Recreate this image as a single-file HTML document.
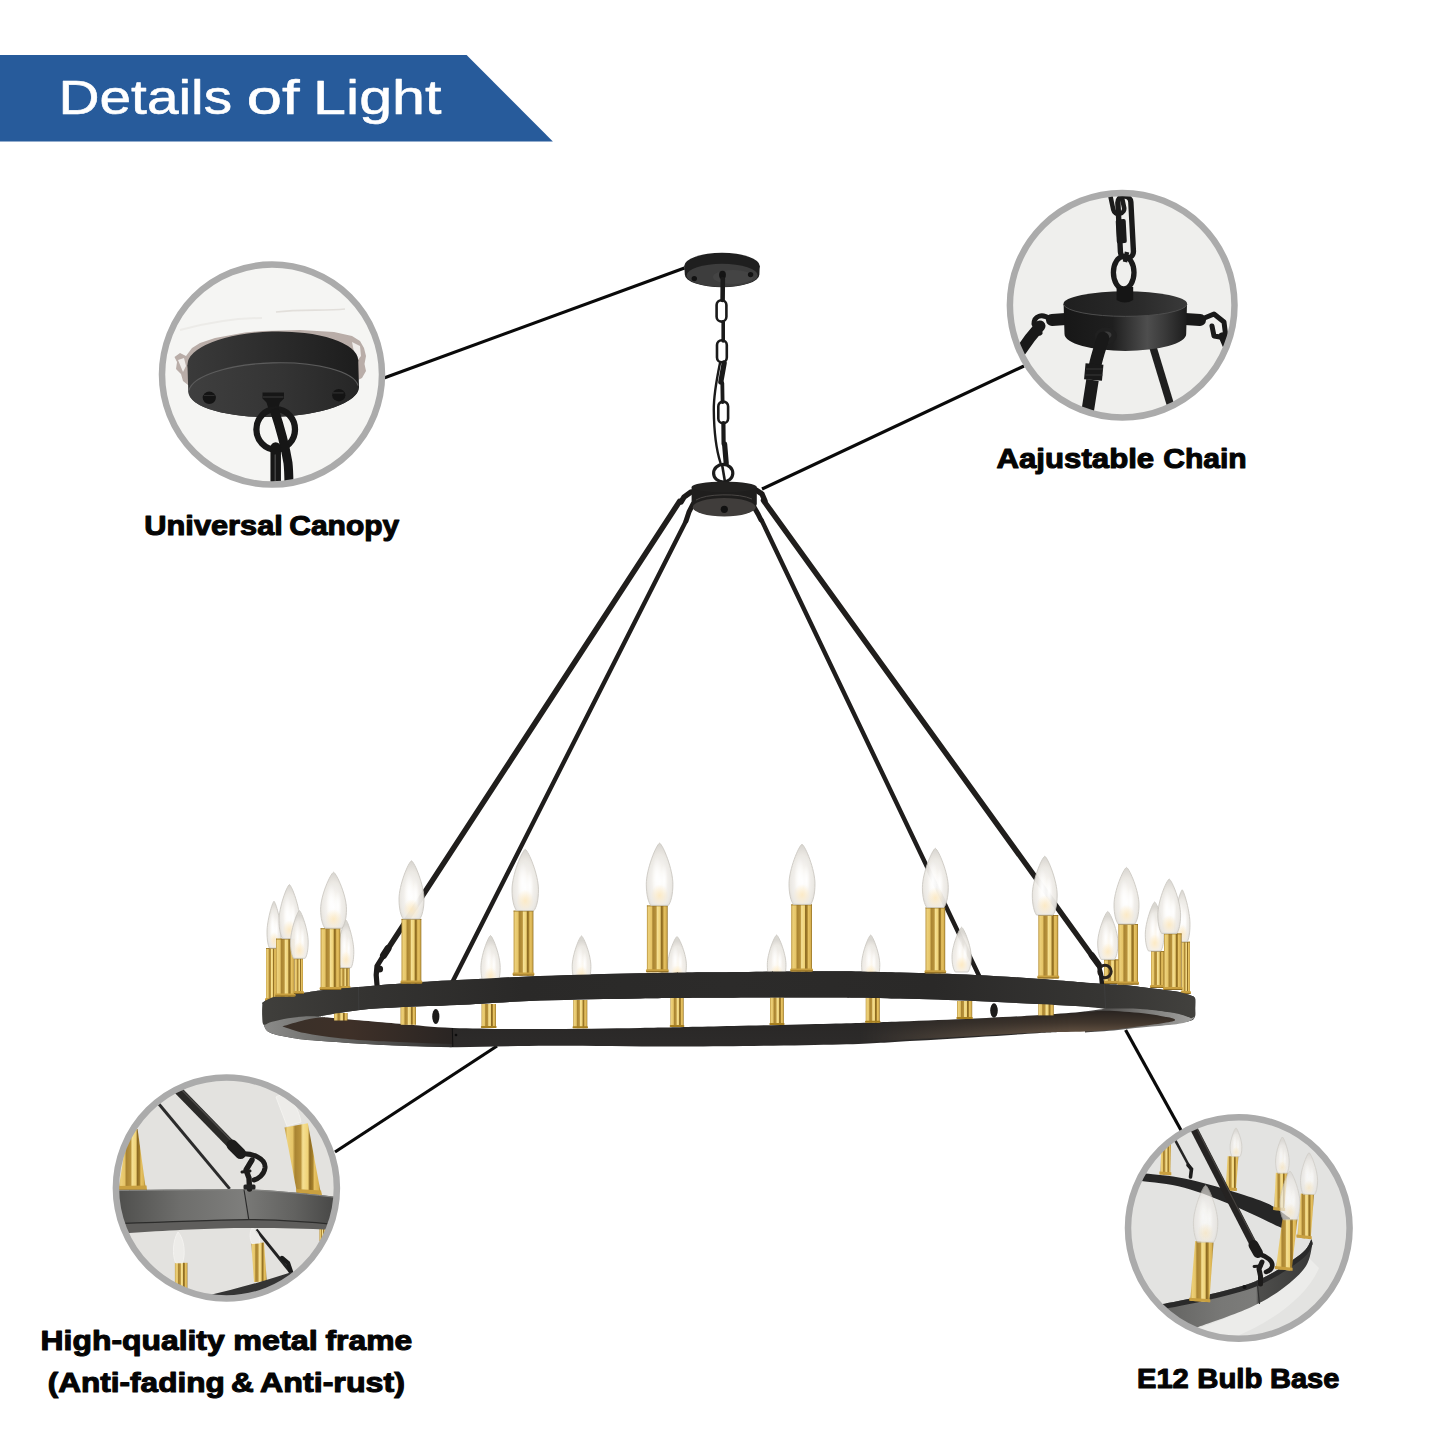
<!DOCTYPE html>
<html><head><meta charset="utf-8"><title>Details of Light</title>
<style>html,body{margin:0;padding:0;background:#fff;}body{width:1445px;height:1445px;overflow:hidden;font-family:"Liberation Sans",sans-serif;}svg{display:block}</style>
</head><body>
<svg width="1445" height="1445" viewBox="0 0 1445 1445">
<defs>
<linearGradient id="gold" x1="0" x2="1" y1="0" y2="0">
<stop offset="0" stop-color="#b8923c"/><stop offset="0.08" stop-color="#ecd07a"/><stop offset="0.22" stop-color="#e6c568"/>
<stop offset="0.29" stop-color="#a98432"/><stop offset="0.44" stop-color="#b9933c"/><stop offset="0.5" stop-color="#f5e093"/>
<stop offset="0.64" stop-color="#efd276"/><stop offset="0.69" stop-color="#8c6a22"/><stop offset="0.77" stop-color="#a6812c"/>
<stop offset="0.82" stop-color="#e6c262"/><stop offset="0.93" stop-color="#d8b252"/><stop offset="1" stop-color="#8f6d22"/>
</linearGradient>
<radialGradient id="bulb" cx="0.5" cy="0.62" r="0.62">
<stop offset="0" stop-color="#ffffff"/><stop offset="0.3" stop-color="#f9f7f3"/><stop offset="0.7" stop-color="#ebe8e3"/><stop offset="1" stop-color="#d5d2cc"/>
</radialGradient>
<radialGradient id="bulbS" cx="0.5" cy="0.72" r="0.62">
<stop offset="0" stop-color="#fff8e8"/><stop offset="0.4" stop-color="#f6f2eb"/><stop offset="0.8" stop-color="#ebe8e3"/><stop offset="1" stop-color="#d8d5cf"/>
</radialGradient>
<radialGradient id="glow" cx="0.5" cy="0.5" r="0.5">
<stop offset="0" stop-color="#fde6b8" stop-opacity="0.75"/><stop offset="1" stop-color="#fde6b8" stop-opacity="0"/>
</radialGradient>
<radialGradient id="wh" cx="0.5" cy="0.5" r="0.5">
<stop offset="0" stop-color="#ffffff" stop-opacity="0.95"/><stop offset="1" stop-color="#ffffff" stop-opacity="0"/>
</radialGradient>
<linearGradient id="bandN" gradientUnits="userSpaceOnUse" x1="262" x2="1195" y1="0" y2="0">
<stop offset="0" stop-color="#403f3c"/><stop offset="0.1" stop-color="#353432"/><stop offset="0.28" stop-color="#2a2928"/><stop offset="0.5" stop-color="#2c2b2a"/><stop offset="0.72" stop-color="#2a2928"/><stop offset="0.9" stop-color="#363533"/><stop offset="1" stop-color="#42413e"/>
</linearGradient>
<linearGradient id="bandF" x1="0" x2="0" y1="0" y2="1">
<stop offset="0" stop-color="#222120"/><stop offset="1" stop-color="#2d2b2a"/>
</linearGradient>
<linearGradient id="fadeRg" gradientUnits="userSpaceOnUse" x1="860" x2="1070" y1="0" y2="0">
<stop offset="0" stop-color="#000"/><stop offset="1" stop-color="#fff"/>
</linearGradient>
<mask id="fadeR" maskUnits="userSpaceOnUse" x="800" y="990" width="420" height="70"><rect x="800" y="990" width="420" height="70" fill="url(#fadeRg)"/></mask>
<linearGradient id="rimR" gradientUnits="userSpaceOnUse" x1="1085" x2="1195" y1="0" y2="0">
<stop offset="0" stop-color="#3a3837"/><stop offset="0.5" stop-color="#777674"/><stop offset="1" stop-color="#a3a3a1"/>
</linearGradient>
<linearGradient id="brownR" gradientUnits="userSpaceOnUse" x1="0" x2="0" y1="1010" y2="1036">
<stop offset="0" stop-color="#27221f"/><stop offset="0.5" stop-color="#41362d"/><stop offset="1" stop-color="#6e5b49"/>
</linearGradient>
<linearGradient id="rimL" gradientUnits="userSpaceOnUse" x1="262" x2="460" y1="0" y2="0">
<stop offset="0" stop-color="#8c8c8a"/><stop offset="0.35" stop-color="#6a6a68"/><stop offset="1" stop-color="#2d2b2a"/>
</linearGradient>
<linearGradient id="brownL" x1="0" x2="1" y1="0" y2="0">
<stop offset="0" stop-color="#3a3029"/><stop offset="0.4" stop-color="#3e3028"/><stop offset="1" stop-color="#2a2523"/>
</linearGradient>
<linearGradient id="face3" gradientUnits="userSpaceOnUse" x1="112" x2="340" y1="0" y2="0">
<stop offset="0" stop-color="#4c4c4a"/><stop offset="0.3" stop-color="#6e6e6c"/><stop offset="0.58" stop-color="#7e7e7c"/><stop offset="0.6" stop-color="#777775"/><stop offset="0.8" stop-color="#626260"/><stop offset="1" stop-color="#444443"/>
</linearGradient>
<linearGradient id="face4" gradientUnits="userSpaceOnUse" x1="1160" x2="1315" y1="0" y2="0">
<stop offset="0" stop-color="#626260"/><stop offset="0.4" stop-color="#787876"/><stop offset="0.62" stop-color="#7c7c7a"/><stop offset="0.635" stop-color="#4e4e4c"/><stop offset="1" stop-color="#383837"/>
</linearGradient>
<linearGradient id="cside" gradientUnits="userSpaceOnUse" x1="188" x2="358" y1="0" y2="0">
<stop offset="0" stop-color="#3a3a3a"/><stop offset="0.5" stop-color="#2c2c2c"/><stop offset="1" stop-color="#1d1d1d"/>
</linearGradient>
<linearGradient id="cface" gradientUnits="userSpaceOnUse" x1="188" x2="358" y1="0" y2="0">
<stop offset="0" stop-color="#3f3f3f"/><stop offset="0.55" stop-color="#343434"/><stop offset="1" stop-color="#262626"/>
</linearGradient>
<linearGradient id="hside" gradientUnits="userSpaceOnUse" x1="1063" x2="1187" y1="0" y2="0">
<stop offset="0" stop-color="#171717"/><stop offset="0.4" stop-color="#1f1f1f"/><stop offset="0.68" stop-color="#4e4e4e"/><stop offset="0.82" stop-color="#3a3a3a"/><stop offset="1" stop-color="#1c1c1c"/>
</linearGradient>
<linearGradient id="htop" gradientUnits="userSpaceOnUse" x1="1063" x2="1187" y1="0" y2="0">
<stop offset="0" stop-color="#1f1f1f"/><stop offset="0.6" stop-color="#2a2a2a"/><stop offset="1" stop-color="#3a3a3a"/>
</linearGradient>
<clipPath id="c1"><circle cx="272" cy="374.6" r="108"/></clipPath>
<clipPath id="c2"><circle cx="1122.2" cy="305.2" r="110"/></clipPath>
<clipPath id="c3"><circle cx="226.4" cy="1188" r="108.5"/></clipPath>
<clipPath id="c4"><circle cx="1238.8" cy="1228" r="108.5"/></clipPath>
</defs>
<polygon points="0,55 466.6,55 552.9,141.5 0,141.5" fill="#275b9b"/>
<g stroke="#0a0a0a" stroke-width="3.2" stroke-linecap="butt">
<line x1="684.5" y1="268" x2="384" y2="378"/>
<line x1="762" y1="489" x2="1024" y2="366"/>
<line x1="497" y1="1046" x2="335" y2="1152"/>
<line x1="1125.6" y1="1030" x2="1182" y2="1132"/>
</g>
<g id="chandelier">
<ellipse cx="722" cy="266" rx="37.8" ry="13.2" fill="#1f1f1f"/>
<path d="M684.3,266 L684.8,274.5 A36.5,12.5 0 0 0 759.4,274.5 L759.7,266 Z" fill="#1f1f1f"/>
<ellipse cx="722.2" cy="275.4" rx="35.6" ry="11.6" fill="#3d3d3d"/>
<ellipse cx="733" cy="277" rx="20" ry="7" fill="#4a4a4a" opacity="0.6"/>
<circle cx="694.3" cy="278.6" r="2.7" fill="#121212"/><circle cx="750.6" cy="274.6" r="2.7" fill="#121212"/>
<ellipse cx="722.5" cy="275" rx="3.4" ry="4.2" fill="#141414"/>
<g fill="none" stroke="#1a1a1a" stroke-linecap="round">
<path d="M722.8,279 L722.6,300" stroke-width="4.6"/>
<path d="M723.2,322 L723.2,341" stroke-width="3.6"/>
<path d="M724.2,363 L720.8,382" stroke-width="5.2"/>
<path d="M722.3,383 L722.6,402" stroke-width="3.8"/>
<path d="M723.4,423 L723.6,444" stroke-width="4.2"/>
<path d="M724.6,444 L726.2,463" stroke-width="5.2"/>
<path d="M720,363 C716.5,380 713.6,395 713.8,410 C714,432 717,452 720.5,463" stroke-width="2.4"/>
<rect x="716.6" y="300.2" width="9.8" height="21.4" rx="4.8" stroke-width="2.6"/>
<rect x="717.0" y="340.2" width="9.8" height="22.0" rx="4.8" stroke-width="2.6"/>
<rect x="718.3" y="401.6" width="9.8" height="21.6" rx="4.8" stroke-width="2.6"/>
</g>
<ellipse cx="723.2" cy="473.2" rx="9.6" ry="8.8" fill="none" stroke="#1b1b1b" stroke-width="3.2"/>
<path d="M722,464 L725,482" stroke="#1b1b1b" stroke-width="2.6"/>
<g stroke="#1f1d1c" stroke-linecap="round">
<line x1="685.5" y1="522" x2="437.2" y2="1012" stroke-width="4.4"/>
<line x1="761.5" y1="520" x2="994.4" y2="1008" stroke-width="4.4"/>
</g>
<path d="M262.6,1004.0 C262.8,1003.6 261.4,1003.1 263.5,1001.9 C265.6,1000.7 268.6,998.2 275.0,996.7 C281.4,995.2 294.4,994.2 302.0,993.2 C309.6,992.2 311.3,991.5 320.6,990.5 C329.9,989.5 344.5,988.2 358.0,987.0 C371.5,985.8 384.9,984.5 401.5,983.4 C418.1,982.2 434.5,981.3 457.6,980.1 C480.7,978.9 509.6,977.1 540.0,976.0 C570.4,974.9 612.0,973.8 640.0,973.2 C668.0,972.6 676.3,972.5 708.0,972.2 C739.7,971.9 798.0,971.2 830.0,971.2 C862.0,971.2 875.8,971.9 900.0,972.5 C924.2,973.1 952.2,973.9 975.0,974.9 C997.8,975.9 1015.5,977.2 1037.0,978.7 C1058.5,980.2 1089.2,983.0 1103.8,984.0 C1118.4,985.0 1118.0,984.4 1124.6,984.9 C1131.1,985.4 1134.5,986.1 1143.1,987.2 C1151.7,988.3 1168.0,990.1 1176.4,991.6 C1184.8,993.1 1190.7,995.6 1193.6,996.4  L1193.6,996.4 C1193.9,996.8 1194.9,996.9 1195.2,998.8 C1195.5,1000.7 1195.3,1004.9 1195.2,1008.0 C1195.1,1011.1 1195.8,1015.2 1194.6,1017.5 C1193.4,1019.8 1192.8,1020.3 1188.0,1021.5 C1183.2,1022.7 1176.6,1023.5 1166.0,1024.6 C1155.4,1025.7 1141.9,1026.7 1124.6,1027.9 C1107.3,1029.1 1076.9,1030.9 1062.3,1031.8 C1047.7,1032.7 1051.5,1032.3 1037.0,1033.2 C1022.5,1034.1 996.2,1035.9 975.0,1037.2 C953.8,1038.5 932.5,1039.8 910.0,1041.0 C887.5,1042.2 877.5,1043.6 840.0,1044.5 C802.5,1045.4 733.3,1046.4 685.0,1046.6 C636.7,1046.8 588.9,1045.7 550.0,1045.8 C511.1,1045.9 480.6,1047.4 451.4,1047.2 C422.2,1047.0 397.8,1045.7 374.6,1044.5 C351.4,1043.3 326.4,1041.5 312.3,1040.3 C298.2,1039.1 296.9,1038.7 290.0,1037.5 C283.1,1036.3 275.1,1034.8 270.8,1033.0 C266.6,1031.2 265.9,1029.8 264.5,1026.8 C263.1,1023.8 262.8,1018.8 262.5,1015.0 C262.2,1011.2 262.6,1005.8 262.6,1004.0 Z" fill="url(#bandF)"/>
<path d="M262.4,1012.0 C268.7,1012.0 287.1,1012.0 300.0,1012.0 C312.9,1012.0 314.4,1009.4 340.0,1012.0 C365.6,1014.6 434.5,1025.2 453.4,1027.9 L451.4,1047.2 C438.6,1046.8 397.8,1045.7 374.6,1044.5 C351.4,1043.3 326.4,1041.5 312.3,1040.3 C298.2,1039.1 296.9,1038.7 290.0,1037.5 C283.1,1036.3 275.1,1034.8 270.8,1033.0 C266.6,1031.2 265.9,1030.3 264.5,1026.8 C263.1,1023.3 262.8,1014.5 262.4,1012.0 Z" fill="url(#rimL)"/>
<path d="M1085.0,1006.0 C1088.2,1006.0 1094.3,1005.6 1104.0,1006.0 C1113.7,1006.4 1131.0,1007.4 1143.0,1008.5 C1155.0,1009.6 1167.3,1012.0 1176.0,1012.6 C1184.7,1013.2 1191.8,1012.1 1195.0,1012.0 L1195.1,1012.0 C1195.0,1012.9 1195.7,1015.9 1194.5,1017.5 C1193.3,1019.1 1191.0,1020.5 1188.0,1021.6 C1185.0,1022.7 1182.5,1023.4 1176.4,1024.2 C1170.3,1025.0 1161.1,1025.6 1151.4,1026.6 C1141.7,1027.5 1129.3,1028.9 1118.2,1029.9 C1107.1,1030.9 1090.5,1032.0 1085.0,1032.4 Z" fill="url(#rimR)"/>
<path d="M282.4,1026.4 C286.1,1025.3 298.3,1021.5 304.8,1020.0 C311.3,1018.5 316.7,1017.9 321.4,1017.6 C326.1,1017.3 320.0,1017.0 333.0,1018.0 C346.0,1019.0 379.4,1022.1 399.5,1023.7 C419.6,1025.4 444.4,1027.2 453.4,1027.9 L453.4,1044.2 C440.3,1043.7 394.2,1042.0 375.0,1041.0 C355.8,1040.0 349.7,1039.4 338.0,1038.1 C326.3,1036.8 314.1,1035.0 304.8,1033.1 C295.5,1031.1 286.1,1027.5 282.4,1026.4 Z" fill="url(#brownL)"/>
<path d="M840.0,1023.4 C850.0,1023.1 880.0,1022.2 900.0,1021.5 C920.0,1020.8 937.2,1020.2 960.0,1019.2 C982.8,1018.2 1016.2,1016.4 1037.0,1015.2 C1057.8,1014.0 1073.5,1013.0 1085.0,1012.2 C1096.5,1011.5 1096.1,1010.5 1105.8,1010.7 C1115.5,1010.9 1132.7,1012.1 1143.1,1013.2 C1153.5,1014.3 1162.8,1016.3 1168.1,1017.3 C1173.4,1018.3 1173.9,1019.0 1175.1,1019.4 L1175.1,1019.4 C1174.6,1019.8 1176.2,1020.6 1172.2,1021.5 C1168.2,1022.4 1160.4,1023.6 1151.4,1024.8 C1142.4,1026.0 1129.3,1027.8 1118.2,1028.9 C1107.1,1030.0 1098.0,1030.8 1085.0,1031.4 C1072.0,1032.0 1060.8,1031.5 1040.0,1032.4 C1019.2,1033.3 983.3,1035.5 960.0,1036.8 C936.7,1038.1 920.0,1039.0 900.0,1040.0 C880.0,1041.0 850.0,1042.5 840.0,1043.0 Z" fill="url(#brownR)" mask="url(#fadeR)"/>
<path d="M318.5,1016.5 C325.1,1015.5 343.8,1011.8 358.0,1010.2 C372.2,1008.6 387.0,1008.0 403.6,1007.1 C420.2,1006.2 434.9,1006.1 457.6,1005.0 C480.3,1003.9 509.6,1001.7 540.0,1000.6 C570.4,999.5 612.0,999.0 640.0,998.5 C668.0,998.0 676.3,998.0 708.0,997.8 C739.7,997.6 798.0,997.3 830.0,997.4 C862.0,997.5 875.8,997.9 900.0,998.5 C924.2,999.1 952.2,1000.0 975.0,1000.9 C997.8,1001.8 1019.5,1003.1 1037.0,1004.0 C1054.5,1004.9 1068.5,1005.4 1080.0,1006.2 C1091.5,1007.0 1101.7,1008.2 1106.0,1008.6 L1106.0,1008.6 C1101.7,1009.2 1091.5,1010.9 1080.0,1012.0 C1068.5,1013.1 1054.5,1014.1 1037.0,1015.2 C1019.5,1016.3 997.8,1017.5 975.0,1018.5 C952.2,1019.5 924.2,1020.6 900.0,1021.5 C875.8,1022.4 862.0,1022.9 830.0,1023.7 C798.0,1024.5 739.7,1025.9 708.0,1026.6 C676.3,1027.3 668.0,1027.6 640.0,1028.0 C612.0,1028.4 571.1,1029.0 540.0,1029.0 C508.9,1029.0 476.8,1028.8 453.4,1027.9 C430.0,1027.0 419.6,1025.4 399.5,1023.7 C379.4,1022.1 346.5,1019.2 333.0,1018.0 C319.5,1016.8 320.9,1016.8 318.5,1016.5 Z" fill="#ffffff"/>
<rect x="481.5" y="1004.0" width="14.5" height="23.9" fill="url(#gold)"/><rect x="480.8" y="1025.9" width="15.9" height="2" rx="1" fill="#a8801f"/><path d="M490.5,935.5 C493.1,937.0 500.2,955.9 500.2,967.5 C500.2,975.8 498.7,981.6 496.9,984.0 L484.2,984.0 C482.4,981.6 480.9,975.8 480.9,967.5 C480.9,955.9 488.0,937.0 490.5,935.5 Z" fill="url(#bulbS)" stroke="#c9c6c0" stroke-width="0.9" opacity="0.95"/><ellipse cx="488.6" cy="962.2" rx="3.9" ry="16.5" fill="url(#wh)"/><ellipse cx="493.8" cy="964.6" rx="2.7" ry="12.6" fill="url(#wh)"/><ellipse cx="490.5" cy="976.2" rx="6.6" ry="8.7" fill="url(#glow)"/>
<rect x="573.2" y="1000.0" width="14.1" height="28.2" fill="url(#gold)"/><rect x="572.5" y="1026.2" width="15.5" height="2" rx="1" fill="#a8801f"/><path d="M581.5,935.9 C584.0,937.3 590.9,955.3 590.9,966.3 C590.9,974.2 589.4,979.7 587.7,982.0 L575.4,982.0 C573.7,979.7 572.2,974.2 572.2,966.3 C572.2,955.3 579.1,937.3 581.5,935.9 Z" fill="url(#bulbS)" stroke="#c9c6c0" stroke-width="0.9" opacity="0.95"/><ellipse cx="579.7" cy="961.3" rx="3.7" ry="15.7" fill="url(#wh)"/><ellipse cx="584.7" cy="963.6" rx="2.6" ry="12.0" fill="url(#wh)"/><ellipse cx="581.5" cy="974.6" rx="6.4" ry="8.3" fill="url(#glow)"/>
<rect x="670.4" y="998.0" width="13.3" height="29.0" fill="url(#gold)"/><rect x="669.7" y="1025.0" width="14.7" height="2" rx="1" fill="#a8801f"/><path d="M677.0,936.5 C679.5,937.8 686.4,954.8 686.4,965.2 C686.4,972.6 684.9,977.8 683.2,980.0 L670.9,980.0 C669.2,977.8 667.7,972.6 667.7,965.2 C667.7,954.8 674.6,937.8 677.0,936.5 Z" fill="url(#bulbS)" stroke="#c9c6c0" stroke-width="0.9" opacity="0.95"/><ellipse cx="675.2" cy="960.4" rx="3.7" ry="14.8" fill="url(#wh)"/><ellipse cx="680.2" cy="962.6" rx="2.6" ry="11.3" fill="url(#wh)"/><ellipse cx="677.0" cy="973.0" rx="6.4" ry="7.8" fill="url(#glow)"/>
<rect x="770.0" y="997.5" width="13.9" height="27.5" fill="url(#gold)"/><rect x="769.3" y="1023.0" width="15.3" height="2" rx="1" fill="#a8801f"/><path d="M776.6,935.0 C779.1,936.4 786.0,953.9 786.0,964.7 C786.0,972.4 784.5,977.8 782.8,980.0 L770.5,980.0 C768.8,977.8 767.3,972.4 767.3,964.7 C767.3,953.9 774.2,936.4 776.6,935.0 Z" fill="url(#bulbS)" stroke="#c9c6c0" stroke-width="0.9" opacity="0.95"/><ellipse cx="774.8" cy="959.8" rx="3.7" ry="15.3" fill="url(#wh)"/><ellipse cx="779.8" cy="962.0" rx="2.6" ry="11.7" fill="url(#wh)"/><ellipse cx="776.6" cy="972.8" rx="6.4" ry="8.1" fill="url(#glow)"/>
<rect x="865.7" y="998.0" width="14.1" height="24.7" fill="url(#gold)"/><rect x="865.0" y="1020.7" width="15.5" height="2" rx="1" fill="#a8801f"/><path d="M870.7,935.0 C873.1,936.4 879.8,953.9 879.8,964.7 C879.8,972.4 878.3,977.8 876.7,980.0 L864.7,980.0 C863.1,977.8 861.6,972.4 861.6,964.7 C861.6,953.9 868.3,936.4 870.7,935.0 Z" fill="url(#bulbS)" stroke="#c9c6c0" stroke-width="0.9" opacity="0.95"/><ellipse cx="868.9" cy="959.8" rx="3.6" ry="15.3" fill="url(#wh)"/><ellipse cx="873.8" cy="962.0" rx="2.5" ry="11.7" fill="url(#wh)"/><ellipse cx="870.7" cy="972.8" rx="6.2" ry="8.1" fill="url(#glow)"/>
<rect x="957.0" y="1001.0" width="15.2" height="18.0" fill="url(#gold)"/><rect x="956.3" y="1017.0" width="16.6" height="2" rx="1" fill="#a8801f"/><path d="M961.6,927.2 C964.1,928.5 971.2,946.0 971.2,956.8 C971.2,964.4 969.7,969.8 967.9,972.0 L955.3,972.0 C953.5,969.8 952.0,964.4 952.0,956.8 C952.0,946.0 959.1,928.5 961.6,927.2 Z" fill="url(#bulbS)" stroke="#c9c6c0" stroke-width="0.9" opacity="0.95"/><ellipse cx="959.7" cy="951.8" rx="3.8" ry="15.2" fill="url(#wh)"/><ellipse cx="964.9" cy="954.1" rx="2.7" ry="11.6" fill="url(#wh)"/><ellipse cx="961.6" cy="964.8" rx="6.5" ry="8.1" fill="url(#glow)"/>
<rect x="400.5" y="1007.0" width="15.5" height="17.8" fill="url(#gold)"/>
<rect x="1038.2" y="1004.0" width="15.6" height="11.4" fill="url(#gold)"/>
<rect x="334.0" y="1013.0" width="13.6" height="7.5" fill="url(#gold)"/>
<ellipse cx="435.8" cy="1016.5" rx="3.6" ry="7.6" fill="#1c1b1a"/>
<ellipse cx="994" cy="1010.5" rx="3.8" ry="7.2" fill="#1c1b1a"/>
<rect x="266.0" y="948.0" width="10.5" height="53.0" fill="url(#gold)"/><rect x="265.0" y="998.0" width="12.5" height="3.0" rx="1.2" fill="#c9a040"/><rect x="265.4" y="1000.0" width="11.7" height="1" fill="#7d5d18" opacity="0.8"/><rect x="266.0" y="948.0" width="10.5" height="1" fill="#8a6a20" opacity="0.7"/><path d="M274.0,901.2 C275.8,902.6 281.0,920.9 281.0,932.1 C281.0,940.0 279.9,945.7 278.6,948.0 L269.4,948.0 C268.1,945.7 267.0,940.0 267.0,932.1 C267.0,920.9 272.2,902.6 274.0,901.2 Z" fill="url(#bulb)" stroke="#c9c6c0" stroke-width="0.9" opacity="0.95"/><ellipse cx="272.6" cy="926.9" rx="2.8" ry="15.9" fill="url(#wh)"/><ellipse cx="276.4" cy="929.3" rx="2.0" ry="12.2" fill="url(#wh)"/><ellipse cx="274.0" cy="940.5" rx="4.8" ry="8.4" fill="url(#glow)"/>
<rect x="340.0" y="967.7" width="9.6" height="21.3" fill="url(#gold)"/><rect x="339.0" y="986.0" width="11.6" height="3.0" rx="1.2" fill="#c9a040"/><rect x="339.4" y="988.0" width="10.8" height="1" fill="#7d5d18" opacity="0.8"/><rect x="340.0" y="967.7" width="9.6" height="1" fill="#8a6a20" opacity="0.7"/><path d="M345.9,920.0 C348.0,921.4 353.8,940.0 353.8,951.5 C353.8,959.6 352.5,965.3 351.1,967.7 L340.7,967.7 C339.3,965.3 338.0,959.6 338.0,951.5 C338.0,940.0 343.8,921.4 345.9,920.0 Z" fill="url(#bulbS)" stroke="#c9c6c0" stroke-width="0.9" opacity="0.95"/><ellipse cx="344.3" cy="946.2" rx="3.2" ry="16.2" fill="url(#wh)"/><ellipse cx="348.6" cy="948.6" rx="2.2" ry="12.4" fill="url(#wh)"/><ellipse cx="345.9" cy="960.1" rx="5.4" ry="8.6" fill="url(#glow)"/>
<rect x="1151.0" y="951.0" width="13.0" height="37.0" fill="url(#gold)"/><rect x="1150.0" y="985.0" width="15.0" height="3.0" rx="1.2" fill="#c9a040"/><rect x="1150.4" y="987.0" width="14.2" height="1" fill="#7d5d18" opacity="0.8"/><rect x="1151.0" y="951.0" width="13.0" height="1" fill="#8a6a20" opacity="0.7"/><path d="M1154.7,901.9 C1157.1,903.4 1164.0,922.5 1164.0,934.3 C1164.0,942.7 1162.5,948.5 1160.8,951.0 L1148.5,951.0 C1146.8,948.5 1145.3,942.7 1145.3,934.3 C1145.3,922.5 1152.2,903.4 1154.7,901.9 Z" fill="url(#bulbS)" stroke="#c9c6c0" stroke-width="0.9" opacity="0.95"/><ellipse cx="1152.8" cy="928.9" rx="3.7" ry="16.7" fill="url(#wh)"/><ellipse cx="1157.8" cy="931.4" rx="2.6" ry="12.8" fill="url(#wh)"/><ellipse cx="1154.7" cy="943.1" rx="6.4" ry="8.8" fill="url(#glow)"/>
<rect x="1181.6" y="941.7" width="8.4" height="52.3" fill="url(#gold)"/><rect x="1180.6" y="991.0" width="10.4" height="3.0" rx="1.2" fill="#c9a040"/><rect x="1181.0" y="993.0" width="9.6" height="1" fill="#7d5d18" opacity="0.8"/><rect x="1181.6" y="941.7" width="8.4" height="1" fill="#8a6a20" opacity="0.7"/><path d="M1182.2,889.8 C1184.2,891.4 1190.0,911.6 1190.0,924.1 C1190.0,932.9 1188.8,939.1 1187.3,941.7 L1177.1,941.7 C1175.6,939.1 1174.4,932.9 1174.4,924.1 C1174.4,911.6 1180.2,891.4 1182.2,889.8 Z" fill="url(#bulb)" stroke="#c9c6c0" stroke-width="0.9" opacity="0.95"/><ellipse cx="1180.6" cy="918.3" rx="3.1" ry="17.6" fill="url(#wh)"/><ellipse cx="1184.9" cy="920.9" rx="2.2" ry="13.5" fill="url(#wh)"/><ellipse cx="1182.2" cy="933.4" rx="5.3" ry="9.3" fill="url(#glow)"/>
<rect x="1104.0" y="959.4" width="15.4" height="24.6" fill="url(#gold)"/><rect x="1103.0" y="981.0" width="17.4" height="3.0" rx="1.2" fill="#c9a040"/><rect x="1103.4" y="983.0" width="16.6" height="1" fill="#7d5d18" opacity="0.8"/><rect x="1104.0" y="959.4" width="15.4" height="1" fill="#8a6a20" opacity="0.7"/><path d="M1107.8,911.4 C1110.5,912.8 1118.0,931.6 1118.0,943.1 C1118.0,951.2 1116.4,957.0 1114.5,959.4 L1101.2,959.4 C1099.3,957.0 1097.7,951.2 1097.7,943.1 C1097.7,931.6 1105.2,912.8 1107.8,911.4 Z" fill="url(#bulbS)" stroke="#c9c6c0" stroke-width="0.9" opacity="0.95"/><ellipse cx="1105.8" cy="937.8" rx="4.1" ry="16.3" fill="url(#wh)"/><ellipse cx="1111.3" cy="940.2" rx="2.8" ry="12.5" fill="url(#wh)"/><ellipse cx="1107.8" cy="951.7" rx="6.9" ry="8.6" fill="url(#glow)"/>
<g stroke="#201e1c" stroke-linecap="round">
<line x1="679.5" y1="501.5" x2="385" y2="953.3" stroke-width="5.5"/>
<line x1="763.5" y1="500.5" x2="1094" y2="958.5" stroke-width="5.5"/>
</g>
<path d="M388,948.5 L383.5,955.5" stroke="#1d1b1a" stroke-width="7" stroke-linecap="round"/>
<path d="M383.5,955.5 L377,966 L376.2,975 L377,985" stroke="#1d1b1a" stroke-width="5.2" stroke-linecap="round" stroke-linejoin="round" fill="none"/>
<circle cx="379.5" cy="969" r="3.6" fill="#1d1b1a"/>
<path d="M1092,955.5 L1098.5,964.5" stroke="#1d1b1a" stroke-width="6.4" stroke-linecap="round"/>
<circle cx="1105" cy="971.5" r="6.2" stroke="#2a231e" stroke-width="3" fill="none"/>
<path d="M1098.5,964.5 L1101,974 L1102,984.5" stroke="#1d1b1a" stroke-width="4.4" stroke-linecap="round" stroke-linejoin="round" fill="none"/>
<path d="M262.6,1004.0 C262.8,1003.6 261.4,1003.1 263.5,1001.9 C265.6,1000.7 268.6,998.2 275.0,996.7 C281.4,995.2 294.4,994.2 302.0,993.2 C309.6,992.2 311.3,991.5 320.6,990.5 C329.9,989.5 344.5,988.2 358.0,987.0 C371.5,985.8 384.9,984.5 401.5,983.4 C418.1,982.2 434.5,981.3 457.6,980.1 C480.7,978.9 509.6,977.1 540.0,976.0 C570.4,974.9 612.0,973.8 640.0,973.2 C668.0,972.6 676.3,972.5 708.0,972.2 C739.7,971.9 798.0,971.2 830.0,971.2 C862.0,971.2 875.8,971.9 900.0,972.5 C924.2,973.1 952.2,973.9 975.0,974.9 C997.8,975.9 1015.5,977.2 1037.0,978.7 C1058.5,980.2 1089.2,983.0 1103.8,984.0 C1118.4,985.0 1118.0,984.4 1124.6,984.9 C1131.1,985.4 1134.5,986.1 1143.1,987.2 C1151.7,988.3 1168.0,990.1 1176.4,991.6 C1184.8,993.1 1190.7,995.6 1193.6,996.4 L1195.2,998.8 L1195.1,1016.4 L1191.5,1018.3 C1189.0,1017.5 1184.5,1014.9 1176.4,1013.4 C1168.3,1011.9 1154.8,1010.0 1143.1,1009.2 C1131.4,1008.4 1112.2,1008.7 1106.0,1008.6 L1106.0,1008.6 C1101.7,1008.2 1091.5,1007.0 1080.0,1006.2 C1068.5,1005.4 1054.5,1004.9 1037.0,1004.0 C1019.5,1003.1 997.8,1001.8 975.0,1000.9 C952.2,1000.0 924.2,999.1 900.0,998.5 C875.8,997.9 862.0,997.5 830.0,997.4 C798.0,997.3 739.7,997.6 708.0,997.8 C676.3,998.0 668.0,998.0 640.0,998.5 C612.0,999.0 570.4,999.5 540.0,1000.6 C509.6,1001.7 480.3,1003.9 457.6,1005.0 C434.9,1006.1 420.2,1006.2 403.6,1007.1 C387.0,1008.0 372.2,1008.6 358.0,1010.2 C343.8,1011.8 325.1,1015.5 318.5,1016.5 C316.1,1016.5 309.1,1016.1 304.0,1016.4 C298.9,1016.7 293.5,1017.4 288.2,1018.3 C282.9,1019.2 276.1,1020.8 272.0,1021.8 C267.9,1022.8 265.2,1025.7 263.6,1024.6 C262.0,1023.5 262.5,1018.4 262.3,1015.0 C262.1,1011.6 262.6,1005.8 262.6,1004.0 Z" fill="url(#bandN)"/>
<path d="M358.5,987 L358.8,1010 M1104.5,984 L1105.5,1008" stroke="#3d3d3d" stroke-width="1"/>
<path d="M452.3,1028 L452.8,1047" stroke="#111" stroke-width="1"/><circle cx="456" cy="1035" r="1.3" fill="#0c0c0c"/>
<rect x="276.0" y="938.6" width="18.6" height="57.9" fill="url(#gold)"/><rect x="275.0" y="993.5" width="20.6" height="3.0" rx="1.2" fill="#c9a040"/><rect x="275.4" y="995.5" width="19.8" height="1" fill="#7d5d18" opacity="0.8"/><rect x="276.0" y="938.6" width="18.6" height="1" fill="#8a6a20" opacity="0.7"/><path d="M289.4,884.6 C292.1,886.2 299.8,907.3 299.8,920.2 C299.8,929.4 298.1,935.9 296.3,938.6 L282.5,938.6 C280.7,935.9 279.0,929.4 279.0,920.2 C279.0,907.3 286.7,886.2 289.4,884.6 Z" fill="url(#bulb)" stroke="#c9c6c0" stroke-width="0.9" opacity="0.95"/><ellipse cx="287.3" cy="914.3" rx="4.2" ry="18.4" fill="url(#wh)"/><ellipse cx="292.9" cy="917.0" rx="2.9" ry="14.0" fill="url(#wh)"/><ellipse cx="289.4" cy="930.0" rx="7.1" ry="9.7" fill="url(#glow)"/>
<rect x="320.6" y="928.2" width="19.7" height="61.8" fill="url(#gold)"/><rect x="319.6" y="987.0" width="21.7" height="3.0" rx="1.2" fill="#c9a040"/><rect x="320.0" y="989.0" width="20.9" height="1" fill="#7d5d18" opacity="0.8"/><rect x="320.6" y="928.2" width="19.7" height="1" fill="#8a6a20" opacity="0.7"/><path d="M333.6,872.2 C336.9,873.9 346.5,895.7 346.5,909.2 C346.5,918.7 344.4,925.4 342.1,928.2 L325.0,928.2 C322.7,925.4 320.6,918.7 320.6,909.2 C320.6,895.7 330.2,873.9 333.6,872.2 Z" fill="url(#bulb)" stroke="#c9c6c0" stroke-width="0.9" opacity="0.95"/><ellipse cx="331.0" cy="903.0" rx="5.2" ry="19.0" fill="url(#wh)"/><ellipse cx="338.0" cy="905.8" rx="3.6" ry="14.6" fill="url(#wh)"/><ellipse cx="333.6" cy="919.2" rx="8.8" ry="10.1" fill="url(#glow)"/>
<rect x="401.5" y="918.9" width="19.8" height="64.7" fill="url(#gold)"/><rect x="400.5" y="980.6" width="21.8" height="3.0" rx="1.2" fill="#c9a040"/><rect x="400.9" y="982.6" width="21.0" height="1" fill="#7d5d18" opacity="0.8"/><rect x="401.5" y="918.9" width="19.8" height="1" fill="#8a6a20" opacity="0.7"/><path d="M411.5,860.8 C414.8,862.5 424.0,885.2 424.0,899.1 C424.0,909.0 422.0,916.0 419.8,918.9 L403.2,918.9 C401.0,916.0 399.0,909.0 399.0,899.1 C399.0,885.2 408.2,862.5 411.5,860.8 Z" fill="url(#bulb)" stroke="#c9c6c0" stroke-width="0.9" opacity="0.95"/><ellipse cx="409.0" cy="892.8" rx="5.0" ry="19.8" fill="url(#wh)"/><ellipse cx="415.8" cy="895.7" rx="3.5" ry="15.1" fill="url(#wh)"/><ellipse cx="411.5" cy="909.6" rx="8.5" ry="10.5" fill="url(#glow)"/>
<rect x="513.6" y="910.6" width="19.8" height="65.0" fill="url(#gold)"/><rect x="512.6" y="972.6" width="21.8" height="3.0" rx="1.2" fill="#c9a040"/><rect x="513.0" y="974.6" width="21.0" height="1" fill="#7d5d18" opacity="0.8"/><rect x="513.6" y="910.6" width="19.8" height="1" fill="#8a6a20" opacity="0.7"/><path d="M525.2,849.3 C528.7,851.1 538.5,875.0 538.5,889.8 C538.5,900.2 536.4,907.5 534.0,910.6 L516.5,910.6 C514.1,907.5 512.0,900.2 512.0,889.8 C512.0,875.0 521.8,851.1 525.2,849.3 Z" fill="url(#bulb)" stroke="#c9c6c0" stroke-width="0.9" opacity="0.95"/><ellipse cx="522.6" cy="883.0" rx="5.3" ry="20.8" fill="url(#wh)"/><ellipse cx="529.8" cy="886.1" rx="3.7" ry="15.9" fill="url(#wh)"/><ellipse cx="525.2" cy="900.8" rx="9.0" ry="11.0" fill="url(#glow)"/>
<rect x="646.9" y="905.4" width="20.8" height="66.8" fill="url(#gold)"/><rect x="645.9" y="969.2" width="22.8" height="3.0" rx="1.2" fill="#c9a040"/><rect x="646.3" y="971.2" width="22.0" height="1" fill="#7d5d18" opacity="0.8"/><rect x="646.9" y="905.4" width="20.8" height="1" fill="#8a6a20" opacity="0.7"/><path d="M659.6,843.1 C663.1,845.0 672.9,869.3 672.9,884.2 C672.9,894.8 670.8,902.3 668.4,905.4 L650.8,905.4 C648.4,902.3 646.3,894.8 646.3,884.2 C646.3,869.3 656.1,845.0 659.6,843.1 Z" fill="url(#bulb)" stroke="#c9c6c0" stroke-width="0.9" opacity="0.95"/><ellipse cx="656.9" cy="877.4" rx="5.3" ry="21.2" fill="url(#wh)"/><ellipse cx="664.1" cy="880.5" rx="3.7" ry="16.2" fill="url(#wh)"/><ellipse cx="659.6" cy="895.4" rx="9.0" ry="11.2" fill="url(#glow)"/>
<rect x="791.2" y="904.4" width="20.8" height="67.0" fill="url(#gold)"/><rect x="790.2" y="968.4" width="22.8" height="3.0" rx="1.2" fill="#c9a040"/><rect x="790.6" y="970.4" width="22.0" height="1" fill="#7d5d18" opacity="0.8"/><rect x="791.2" y="904.4" width="20.8" height="1" fill="#8a6a20" opacity="0.7"/><path d="M802.0,844.2 C805.4,846.0 815.0,869.5 815.0,883.9 C815.0,894.2 812.9,901.4 810.6,904.4 L793.4,904.4 C791.1,901.4 789.0,894.2 789.0,883.9 C789.0,869.5 798.6,846.0 802.0,844.2 Z" fill="url(#bulb)" stroke="#c9c6c0" stroke-width="0.9" opacity="0.95"/><ellipse cx="799.4" cy="877.3" rx="5.2" ry="20.5" fill="url(#wh)"/><ellipse cx="806.4" cy="880.3" rx="3.6" ry="15.7" fill="url(#wh)"/><ellipse cx="802.0" cy="894.8" rx="8.8" ry="10.8" fill="url(#glow)"/>
<rect x="925.5" y="907.5" width="19.7" height="65.7" fill="url(#gold)"/><rect x="924.5" y="970.2" width="21.7" height="3.0" rx="1.2" fill="#c9a040"/><rect x="924.9" y="972.2" width="20.9" height="1" fill="#7d5d18" opacity="0.8"/><rect x="925.5" y="907.5" width="19.7" height="1" fill="#8a6a20" opacity="0.7"/><path d="M935.3,848.3 C938.7,850.1 948.3,873.2 948.3,887.4 C948.3,897.4 946.2,904.5 943.9,907.5 L926.8,907.5 C924.5,904.5 922.4,897.4 922.4,887.4 C922.4,873.2 932.0,850.1 935.3,848.3 Z" fill="url(#bulb)" stroke="#c9c6c0" stroke-width="0.9" opacity="0.95"/><ellipse cx="932.8" cy="880.9" rx="5.2" ry="20.1" fill="url(#wh)"/><ellipse cx="939.8" cy="883.8" rx="3.6" ry="15.4" fill="url(#wh)"/><ellipse cx="935.3" cy="898.0" rx="8.8" ry="10.7" fill="url(#glow)"/>
<rect x="1038.3" y="915.0" width="19.9" height="63.4" fill="url(#gold)"/><rect x="1037.3" y="975.4" width="21.9" height="3.0" rx="1.2" fill="#c9a040"/><rect x="1037.7" y="977.4" width="21.1" height="1" fill="#7d5d18" opacity="0.8"/><rect x="1038.3" y="915.0" width="19.9" height="1" fill="#8a6a20" opacity="0.7"/><path d="M1044.8,856.2 C1048.0,858.0 1057.2,880.9 1057.2,895.0 C1057.2,905.0 1055.2,912.1 1053.0,915.0 L1036.5,915.0 C1034.3,912.1 1032.3,905.0 1032.3,895.0 C1032.3,880.9 1041.5,858.0 1044.8,856.2 Z" fill="url(#bulb)" stroke="#c9c6c0" stroke-width="0.9" opacity="0.95"/><ellipse cx="1042.3" cy="888.5" rx="5.0" ry="20.0" fill="url(#wh)"/><ellipse cx="1049.0" cy="891.5" rx="3.5" ry="15.3" fill="url(#wh)"/><ellipse cx="1044.8" cy="905.6" rx="8.5" ry="10.6" fill="url(#glow)"/>
<rect x="1118.3" y="924.0" width="19.7" height="60.6" fill="url(#gold)"/><rect x="1117.3" y="981.6" width="21.7" height="3.0" rx="1.2" fill="#c9a040"/><rect x="1117.7" y="983.6" width="20.9" height="1" fill="#7d5d18" opacity="0.8"/><rect x="1118.3" y="924.0" width="19.7" height="1" fill="#8a6a20" opacity="0.7"/><path d="M1126.5,867.4 C1129.8,869.1 1139.0,891.2 1139.0,904.8 C1139.0,914.4 1137.0,921.2 1134.8,924.0 L1118.2,924.0 C1116.0,921.2 1114.0,914.4 1114.0,904.8 C1114.0,891.2 1123.2,869.1 1126.5,867.4 Z" fill="url(#bulb)" stroke="#c9c6c0" stroke-width="0.9" opacity="0.95"/><ellipse cx="1124.0" cy="898.5" rx="5.0" ry="19.2" fill="url(#wh)"/><ellipse cx="1130.8" cy="901.4" rx="3.5" ry="14.7" fill="url(#wh)"/><ellipse cx="1126.5" cy="914.9" rx="8.5" ry="10.2" fill="url(#glow)"/>
<rect x="1164.0" y="933.4" width="17.6" height="56.6" fill="url(#gold)"/><rect x="1163.0" y="987.0" width="19.6" height="3.0" rx="1.2" fill="#c9a040"/><rect x="1163.4" y="989.0" width="18.8" height="1" fill="#7d5d18" opacity="0.8"/><rect x="1164.0" y="933.4" width="17.6" height="1" fill="#8a6a20" opacity="0.7"/><path d="M1169.2,879.0 C1172.2,880.6 1180.6,901.8 1180.6,914.9 C1180.6,924.2 1178.8,930.7 1176.7,933.4 L1161.7,933.4 C1159.6,930.7 1157.8,924.2 1157.8,914.9 C1157.8,901.8 1166.2,880.6 1169.2,879.0 Z" fill="url(#bulb)" stroke="#c9c6c0" stroke-width="0.9" opacity="0.95"/><ellipse cx="1166.9" cy="908.9" rx="4.6" ry="18.5" fill="url(#wh)"/><ellipse cx="1173.1" cy="911.6" rx="3.2" ry="14.1" fill="url(#wh)"/><ellipse cx="1169.2" cy="924.7" rx="7.8" ry="9.8" fill="url(#glow)"/>
<rect x="294.6" y="958.3" width="8.4" height="35.7" fill="url(#gold)"/><rect x="293.6" y="991.0" width="10.4" height="3.0" rx="1.2" fill="#c9a040"/><rect x="294.0" y="993.0" width="9.6" height="1" fill="#7d5d18" opacity="0.8"/><rect x="294.6" y="958.3" width="8.4" height="1" fill="#8a6a20" opacity="0.7"/><path d="M299.4,910.6 C301.7,912.0 308.2,930.6 308.2,942.1 C308.2,950.2 306.8,955.9 305.2,958.3 L293.5,958.3 C291.9,955.9 290.5,950.2 290.5,942.1 C290.5,930.6 297.0,912.0 299.4,910.6 Z" fill="url(#bulbS)" stroke="#c9c6c0" stroke-width="0.9" opacity="0.95"/><ellipse cx="297.6" cy="936.8" rx="3.5" ry="16.2" fill="url(#wh)"/><ellipse cx="302.4" cy="939.2" rx="2.5" ry="12.4" fill="url(#wh)"/><ellipse cx="299.4" cy="950.7" rx="6.0" ry="8.6" fill="url(#glow)"/>
<g stroke="#1c1a19" stroke-linecap="round" fill="none">
<path d="M691,492 L684,497 L681,502" stroke-width="5.4"/>
<path d="M693,504 L689,512 L686,521" stroke-width="5"/>
<path d="M756,490 L762,494 L765,501" stroke-width="5.4"/>
<path d="M754,507 L758,514 L761,520" stroke-width="5"/>
</g>
<path d="M691.6,487 L691.6,504 A32.6,9.5 0 0 0 756.8,504 L756.8,487 Z" fill="#1f1e1d"/>
<ellipse cx="724.2" cy="487" rx="32.6" ry="5.4" fill="#222120"/>
<ellipse cx="724.2" cy="507.2" rx="31.4" ry="9.2" fill="#403d3b"/>
<path d="M696,500 A32,9 0 0 1 752,499" stroke="#4a4745" stroke-width="1" fill="none"/>
<circle cx="724.3" cy="509.3" r="3.6" fill="#111"/>
</g>
<g clip-path="url(#c1)">
<circle cx="272" cy="374.6" r="109" fill="#f5f5f3"/>
<path d="M276,312 C300,309 325,311 345,309" stroke="#e2dfdb" stroke-width="1.6" fill="none"/>
<path d="M180,330 C210,322 240,318 262,318" stroke="#ecebe8" stroke-width="2" fill="none"/>
<path d="M174.5,357 L180,353 L186,356 L192,348 L200,343 L215,338 L245,332.5 L262,331 L300,330 L334,332 L343,334 L352,336 L360,341 L364,348 L366,356 L364.5,364 L366,371 L362,378 L356,381 L352,372 L300,345 L220,352 L190,372 L188,385 L183,381 L181,374 L176,369 L177,362 Z" fill="#b9ada8"/>
<path d="M178,360 L184,358 L186,366 L183,372 Z M352,342 L360,346 L361,356 L356,362 Z" fill="#efecea"/>
<g transform="rotate(-1.6 273 375)">
<path d="M187.8,362.5 L187.8,389.5 A85.2,27.4 0 0 0 358.6,389.5 L358.6,362.5 Z" fill="url(#cside)"/>
<ellipse cx="273.2" cy="362.5" rx="85.4" ry="31" fill="url(#cside)"/>
<ellipse cx="273.2" cy="389.5" rx="84.9" ry="27.4" fill="url(#cface)"/>
<path d="M188.6,388 A84.9,27.4 0 0 1 357.8,388" stroke="#5c5c5c" stroke-width="1.1" fill="none"/>
</g>
<ellipse cx="209.3" cy="397.8" rx="6.6" ry="6.2" fill="#141414"/><ellipse cx="338.8" cy="395.2" rx="6.6" ry="6.2" fill="#141414"/>
<path d="M204,395.5 h10.5 M332.6,392.8 h11" stroke="#2e2e2e" stroke-width="1.2"/>
<path d="M262.5,392.5 h21.5 v6 l-4,4 l-2.5,8 h-8.5 l-2.5,-8 l-4,-4 Z" fill="#161616"/>
<path d="M263,397 h20.5" stroke="#3a3a3a" stroke-width="1"/>
<ellipse cx="275.7" cy="429.4" rx="19.3" ry="20.2" fill="none" stroke="#181818" stroke-width="6.3"/>
<path d="M274,409 C279,424 285,445 288,463 C289,472 289,480 289,492" stroke="#161616" stroke-width="9" fill="none"/>
<path d="M275.7,447.5 L275.7,492" stroke="#161616" stroke-width="10.5" stroke-linecap="round" fill="none"/>
<path d="M275.2,455 L275.2,484" stroke="#4a4a4a" stroke-width="1.3" stroke-linecap="round" fill="none"/>
</g>
<circle cx="272.0" cy="374.6" r="110.0" fill="none" stroke="#ababab" stroke-width="6.5"/>
<g clip-path="url(#c2)">
<circle cx="1122.2" cy="305.2" r="111" fill="#efefed"/>
<rect x="1110.5" y="178" width="11" height="36" rx="5" fill="none" stroke="#1b1b1b" stroke-width="4.6" transform="rotate(-12 1116 196)"/>
<rect x="1119.3" y="196" width="13" height="62" rx="6.5" fill="none" stroke="#1a1a1a" stroke-width="5.4" transform="rotate(-3 1126 230)"/>
<rect x="1116.2" y="219" width="10" height="24" rx="2" fill="#1a1a1a" transform="rotate(-3 1126 230)"/>
<ellipse cx="1123.7" cy="272.6" rx="10.3" ry="16.2" fill="none" stroke="#1a1a1a" stroke-width="5.3"/>
<path d="M1127,252 L1125,262" stroke="#1a1a1a" stroke-width="4.5"/>
<path d="M1152.3,345 L1170.5,405" stroke="#1f1f1f" stroke-width="7.5"/>
<g stroke="#191919" fill="none" stroke-linecap="round" stroke-linejoin="round">
<path d="M1066,319 L1052,320" stroke-width="12"/>
<path d="M1050,319 C1042,313 1034,316 1034,324 L1040,333" stroke-width="5"/>
<path d="M1040,326 L1030,338 L1020,352" stroke-width="11"/>
<path d="M1185,319 L1200,320" stroke-width="12"/>
<path d="M1202,319 L1214,314 L1224,322 L1226,338 L1214,336 L1212,326" stroke-width="5"/>
<path d="M1222,336 L1228,350" stroke-width="7"/>
</g>
<path d="M1063.6,304 L1064.5,334 A60.5,16.8 0 0 0 1186.2,334 L1187,304 Z" fill="url(#hside)"/>
<ellipse cx="1125.3" cy="303.8" rx="61.8" ry="12.6" fill="url(#htop)"/>
<path d="M1063.6,304.5 A61.8,12.6 0 0 0 1187,304.5" stroke="#4e4e4e" stroke-width="1" fill="none"/>
<path d="M1116.6,287 h16.6 v13 q-8.3,5 -16.6,0 Z" fill="#151515"/>
<ellipse cx="1106" cy="336" rx="11" ry="8.4" fill="#202020"/>
<ellipse cx="1106.5" cy="335" rx="5" ry="3.4" fill="#3c3c3c"/>
<path d="M1103,338 C1100,348 1097,356 1095,366" stroke="#191919" stroke-width="12.5" fill="none" stroke-linecap="round"/>
<path d="M1094.5,364 L1093,380" stroke="#191919" stroke-width="18" fill="none"/>
<path d="M1086,369 h17 M1085.5,375 h17" stroke="#383838" stroke-width="1.2"/>
<path d="M1092.5,380 L1087.5,412" stroke="#1a1a1a" stroke-width="12.5" fill="none"/>
</g>
<circle cx="1122.2" cy="305.2" r="112.3" fill="none" stroke="#ababab" stroke-width="6.5"/>
<g clip-path="url(#c3)">
<circle cx="226.4" cy="1187.8" r="109" fill="#e3e2df"/>
<path d="M159.1,1104.2 L229.7,1188.9" stroke="#2b2b2b" stroke-width="3"/>
<path d="M176,1088 L237.2,1150.7" stroke="#2a2927" stroke-width="8.6"/>
<path d="M178.5,1086.5 L238.5,1148" stroke="#4a4846" stroke-width="1.4"/>
<polygon points="127.6,1130.8 137.6,1129.1 145.9,1189.5 118.5,1190" fill="url(#gold)"/>
<polygon points="116,1186 146.5,1185.5 147,1190 116,1190.5" fill="#c9a040"/>
<path d="M276,1097 C283,1092 296,1098 301,1122 L287,1126 Z" fill="#f4f3f0" fill-opacity="0.6" stroke="#f3f2ef" stroke-width="1"/>
<polygon points="284.5,1127.5 307.8,1123.3 321.1,1194.5 297,1193" fill="url(#gold)"/>
<polygon points="296,1189 321,1190.5 322,1195 296.5,1193.5" fill="#c9a040"/>
<path d="M256.3,1229.6 L290.4,1272" stroke="#222" stroke-width="3"/>
<path d="M282,1258 l6,5 l3,9" stroke="#1a1a1a" stroke-width="4.4" fill="none" stroke-linecap="round"/>
<rect x="174.9" y="1262.8" width="12.5" height="27" fill="url(#gold)"/>
<path d="M178,1232 C184,1238 186,1254 182.5,1262.8 L175.5,1262.8 C172,1254 173,1240 178,1232Z" fill="#f5f4f1" fill-opacity="0.55" stroke="#f4f3f0" stroke-width="0.9"/>
<polygon points="251.3,1243.5 264,1242.5 266.8,1281.5 254,1282" fill="url(#gold)"/>
<path d="M252,1228 C258,1230 260.5,1238 259.5,1243 L251.8,1243.5 C249.5,1238 249.5,1232 252,1228Z" fill="#f5f4f1" fill-opacity="0.55" stroke="#f4f3f0" stroke-width="0.9"/>
<rect x="319.4" y="1228" width="6" height="13" fill="url(#gold)"/>
<path d="M206,1296 C232,1290 262,1282 292,1272 L300,1300 L200,1306Z" fill="#343434"/>
<path d="M112,1210 L124.3,1216 C165,1217 210,1215 248.8,1214 C280,1220 310,1221 340,1224 L340,1230.5 C300,1228 270,1228 234,1228 C190,1229 160,1231 112,1234 Z" fill="#5f5e5c"/>
<path d="M110,1189.9 C160,1189.5 200,1189.2 243.9,1188.9 C280,1190.5 310,1193.5 342,1197.5 L342,1225.5 C310,1221.5 280,1220 248.8,1219.6 C200,1220.5 160,1222 110,1224 Z" fill="url(#face3)"/>
<path d="M243.9,1188.9 L248.8,1219.6" stroke="#2a2a2a" stroke-width="1.1"/>
<path d="M112,1190.6 C160,1190.2 200,1189.9 243.9,1189.6 C280,1191.2 310,1194.2 342,1198.2" stroke="#8a8a88" stroke-width="0.9" fill="none"/>
<path d="M110,1224 C160,1222 200,1220.5 248.8,1219.6 C280,1220 310,1221.5 342,1225.5" stroke="#2c2c2b" stroke-width="1.3" fill="none"/>
<path d="M232,1145 L240.5,1153.5" stroke="#1d1c1b" stroke-width="11" stroke-linecap="round"/>
<path d="M241,1154 C252,1153 266,1158 265,1168 C264,1175 258,1179 254,1180" stroke="#1d1c1b" stroke-width="5" fill="none" stroke-linecap="round"/>
<path d="M252,1160 L246,1170 L249,1178 L249.5,1189" stroke="#1d1c1b" stroke-width="5.4" fill="none" stroke-linecap="round" stroke-linejoin="round"/>
<path d="M242,1172 L250,1171" stroke="#1d1c1b" stroke-width="3" stroke-linecap="round"/>
<rect x="243.5" y="1184.5" width="12" height="5" rx="1.5" fill="#222"/>
</g>
<circle cx="226.4" cy="1188.0" r="110.5" fill="none" stroke="#ababab" stroke-width="6.5"/>
<g clip-path="url(#c4)">
<circle cx="1238.8" cy="1228" r="109.5" fill="#e3e3e1"/>
<path d="M1180,1334 C1235,1318 1290,1292 1309,1258 L1319,1268 C1304,1304 1252,1336 1196,1350 Z" fill="#ececea"/>
<path d="M1128.0,1172.5 C1130.8,1172.7 1135.2,1172.6 1144.6,1173.6 C1154.0,1174.6 1169.5,1175.5 1184.4,1178.6 C1199.4,1181.6 1220.5,1187.8 1234.3,1191.9 C1248.1,1196.1 1258.2,1199.2 1267.5,1203.5 C1276.8,1207.8 1286.2,1215.6 1290.0,1218.0 L1290.0,1232.0 C1288.5,1231.3 1290.1,1231.9 1280.8,1227.6 C1271.5,1223.3 1250.4,1212.7 1234.3,1206.0 C1218.2,1199.3 1199.9,1191.9 1184.4,1187.7 C1168.9,1183.5 1150.7,1182.3 1141.3,1181.0 C1131.9,1179.7 1130.2,1180.2 1128.0,1180.0 Z" fill="#262626"/>
<polygon points="1161.5,1140.0 1171.1,1140.0 1170.3,1175.3 1160.4,1174.4" fill="url(#gold)"/><polygon points="1159.4,1171.4 1171.3,1172.3 1171.3,1175.3 1159.4,1174.4" fill="#c9a040"/>
<polygon points="1227.6,1156.2 1238.4,1156.2 1235.9,1191.0 1225.6,1190.2" fill="url(#gold)"/><polygon points="1224.6,1187.2 1236.9,1188.0 1236.9,1191.0 1224.6,1190.2" fill="#c9a040"/><g opacity="0.72"><path d="M1236.0,1127.9 C1237.5,1128.8 1241.9,1140.0 1241.9,1146.9 C1241.9,1151.8 1241.0,1155.3 1239.9,1156.7 L1232.1,1156.7 C1231.0,1155.3 1230.1,1151.8 1230.1,1146.9 C1230.1,1140.0 1234.5,1128.8 1236.0,1127.9 Z" fill="url(#bulbS)" stroke="#c9c6c0" stroke-width="0.9" opacity="0.95"/><ellipse cx="1234.8" cy="1143.7" rx="2.4" ry="9.8" fill="url(#wh)"/><ellipse cx="1238.0" cy="1145.2" rx="1.7" ry="7.5" fill="url(#wh)"/><ellipse cx="1236.0" cy="1152.1" rx="4.0" ry="5.2" fill="url(#glow)"/></g>
<polygon points="1275.8,1172.8 1287.4,1172.8 1284.1,1211.0 1274.1,1210.1" fill="url(#gold)"/><polygon points="1273.1,1207.1 1285.1,1208.0 1285.1,1211.0 1273.1,1210.1" fill="#c9a040"/><g opacity="0.72"><path d="M1282.4,1137.0 C1284.2,1138.1 1289.2,1152.2 1289.2,1161.0 C1289.2,1167.1 1288.1,1171.5 1286.9,1173.3 L1277.9,1173.3 C1276.7,1171.5 1275.6,1167.1 1275.6,1161.0 C1275.6,1152.2 1280.6,1138.1 1282.4,1137.0 Z" fill="url(#bulbS)" stroke="#c9c6c0" stroke-width="0.9" opacity="0.95"/><ellipse cx="1281.0" cy="1157.0" rx="2.7" ry="12.3" fill="url(#wh)"/><ellipse cx="1284.7" cy="1158.8" rx="1.9" ry="9.4" fill="url(#wh)"/><ellipse cx="1282.4" cy="1167.5" rx="4.6" ry="6.5" fill="url(#glow)"/></g>
<path d="M1175.3,1140.4 L1191,1169.5" stroke="#242424" stroke-width="2.6"/>
<path d="M1188,1165 l3.5,4 l-1,8" stroke="#1c1c1c" stroke-width="3.6" fill="none" stroke-linecap="round"/>
<path d="M1150.0,1306.0 C1152.1,1305.7 1151.5,1306.3 1162.8,1304.0 C1174.1,1301.7 1201.3,1296.6 1217.6,1292.4 C1233.9,1288.2 1246.9,1285.4 1260.8,1279.0 C1274.7,1272.6 1292.2,1260.8 1300.7,1254.2 C1309.2,1247.6 1309.7,1241.7 1311.5,1239.2 L1312.6,1243.0 C1311.5,1246.8 1310.8,1258.6 1306.0,1266.0 C1301.2,1273.4 1293.2,1280.5 1284.0,1287.4 C1274.8,1294.3 1265.3,1300.7 1250.9,1307.3 C1236.5,1313.9 1209.5,1323.1 1197.7,1327.2 C1185.9,1331.3 1183.0,1331.2 1180.0,1332.0 Z" fill="url(#face4)"/>
<path d="M1150.0,1306.0 C1152.1,1305.7 1151.5,1306.3 1162.8,1304.0 C1174.1,1301.7 1201.3,1296.6 1217.6,1292.4 C1233.9,1288.2 1246.9,1285.4 1260.8,1279.0 C1274.7,1272.6 1292.2,1260.8 1300.7,1254.2 C1309.2,1247.6 1309.7,1241.7 1311.5,1239.2 L1312.7,1244.2 C1310.9,1246.7 1310.4,1252.6 1301.9,1259.2 C1293.5,1265.8 1275.8,1277.6 1262.0,1284.0 C1248.2,1290.4 1235.1,1293.2 1218.8,1297.4 C1202.5,1301.6 1175.3,1306.7 1164.0,1309.0 C1152.7,1311.3 1153.3,1310.7 1151.2,1311.0 Z" fill="#2a2a2a"/>
<path d="M1257,1280.5 L1259.5,1304" stroke="#2e2e2e" stroke-width="1.1"/>
<polygon points="1300.7,1193.5 1314.0,1194.4 1310.7,1239.2 1297.4,1237.5" fill="url(#gold)"/><polygon points="1296.4,1234.5 1311.7,1236.2 1311.7,1239.2 1296.4,1237.5" fill="#c9a040"/><g opacity="0.72"><path d="M1309.0,1152.8 C1311.3,1154.0 1317.6,1170.3 1317.6,1180.3 C1317.6,1187.4 1316.2,1192.4 1314.7,1194.5 L1303.4,1194.5 C1301.9,1192.4 1300.5,1187.4 1300.5,1180.3 C1300.5,1170.3 1306.8,1154.0 1309.0,1152.8 Z" fill="url(#bulb)" stroke="#c9c6c0" stroke-width="0.9" opacity="0.95"/><ellipse cx="1307.3" cy="1175.7" rx="3.4" ry="14.2" fill="url(#wh)"/><ellipse cx="1312.0" cy="1177.8" rx="2.4" ry="10.8" fill="url(#wh)"/><ellipse cx="1309.0" cy="1187.8" rx="5.8" ry="7.5" fill="url(#glow)"/></g>
<polygon points="1282.4,1219.3 1297.4,1219.3 1291.6,1270.8 1275.8,1269.1" fill="url(#gold)"/><polygon points="1274.8,1266.1 1292.6,1267.8 1292.6,1270.8 1274.8,1269.1" fill="#c9a040"/><g opacity="0.72"><path d="M1290.0,1171.1 C1292.6,1172.6 1300.0,1191.6 1300.0,1203.2 C1300.0,1211.5 1298.4,1217.4 1296.6,1219.8 L1283.4,1219.8 C1281.6,1217.4 1280.0,1211.5 1280.0,1203.2 C1280.0,1191.6 1287.4,1172.6 1290.0,1171.1 Z" fill="url(#bulb)" stroke="#c9c6c0" stroke-width="0.9" opacity="0.95"/><ellipse cx="1288.0" cy="1197.9" rx="4.0" ry="16.6" fill="url(#wh)"/><ellipse cx="1293.4" cy="1200.3" rx="2.8" ry="12.7" fill="url(#wh)"/><ellipse cx="1290.0" cy="1212.0" rx="6.8" ry="8.8" fill="url(#glow)"/></g>
<path d="M1193.5,1128 L1255.9,1249.2" stroke="#252322" stroke-width="7.4"/>
<path d="M1196,1127 L1258,1247.5" stroke="#45423f" stroke-width="1.2"/>
<path d="M1253.5,1245 L1258,1253" stroke="#1c1b1a" stroke-width="10" stroke-linecap="round"/>
<path d="M1259,1254 C1266,1256 1274,1261 1272,1267 C1271,1270 1268,1271.5 1266,1272" stroke="#1c1b1a" stroke-width="4.6" fill="none" stroke-linecap="round"/>
<path d="M1262,1262 L1259,1269 L1260.5,1276 L1260.5,1284" stroke="#1c1b1a" stroke-width="5" fill="none" stroke-linecap="round" stroke-linejoin="round"/>
<path d="M1254,1266.5 L1261,1266" stroke="#1c1b1a" stroke-width="2.8" stroke-linecap="round"/>
<circle cx="1244.5" cy="1287" r="2" fill="#141414"/>
<polygon points="1195.2,1240.9 1213.5,1242.5 1209.3,1302.3 1190.2,1300.7" fill="url(#gold)"/><polygon points="1189.2,1297.7 1210.3,1299.3 1210.3,1302.3 1189.2,1300.7" fill="#c9a040"/><g opacity="0.72"><path d="M1205.6,1185.2 C1208.8,1186.9 1217.8,1209.1 1217.8,1222.8 C1217.8,1232.5 1215.8,1239.4 1213.7,1242.2 L1197.5,1242.2 C1195.4,1239.4 1193.4,1232.5 1193.4,1222.8 C1193.4,1209.1 1202.4,1186.9 1205.6,1185.2 Z" fill="url(#bulb)" stroke="#c9c6c0" stroke-width="0.9" opacity="0.95"/><ellipse cx="1203.2" cy="1216.5" rx="4.9" ry="19.4" fill="url(#wh)"/><ellipse cx="1209.7" cy="1219.4" rx="3.4" ry="14.8" fill="url(#wh)"/><ellipse cx="1205.6" cy="1233.1" rx="8.3" ry="10.3" fill="url(#glow)"/></g>
</g>
<circle cx="1238.8" cy="1228.0" r="110.8" fill="none" stroke="#ababab" stroke-width="6.5"/>
<text x="144.3" y="534.5" font-family="Liberation Sans, sans-serif" font-weight="bold" font-size="28.4" fill="#050505" stroke="#050505" stroke-width="1.10" stroke-linejoin="round" textLength="138.6" lengthAdjust="spacingAndGlyphs">Universal</text>
<text x="289.3" y="534.5" font-family="Liberation Sans, sans-serif" font-weight="bold" font-size="28.4" fill="#050505" stroke="#050505" stroke-width="1.10" stroke-linejoin="round" textLength="109.9" lengthAdjust="spacingAndGlyphs">Canopy</text>
<text x="996.5" y="468.1" font-family="Liberation Sans, sans-serif" font-weight="bold" font-size="28.4" fill="#050505" stroke="#050505" stroke-width="1.10" stroke-linejoin="round" textLength="157.7" lengthAdjust="spacingAndGlyphs">Aajustable</text>
<text x="1163.2" y="468.1" font-family="Liberation Sans, sans-serif" font-weight="bold" font-size="28.4" fill="#050505" stroke="#050505" stroke-width="1.10" stroke-linejoin="round" textLength="83.5" lengthAdjust="spacingAndGlyphs">Chain</text>
<text x="40.6" y="1349.5" font-family="Liberation Sans, sans-serif" font-weight="bold" font-size="28.4" fill="#050505" stroke="#050505" stroke-width="1.10" stroke-linejoin="round" textLength="184.1" lengthAdjust="spacingAndGlyphs">High-quality</text>
<text x="233.3" y="1349.5" font-family="Liberation Sans, sans-serif" font-weight="bold" font-size="28.4" fill="#050505" stroke="#050505" stroke-width="1.10" stroke-linejoin="round" textLength="84.4" lengthAdjust="spacingAndGlyphs">metal</text>
<text x="325.5" y="1349.5" font-family="Liberation Sans, sans-serif" font-weight="bold" font-size="28.4" fill="#050505" stroke="#050505" stroke-width="1.10" stroke-linejoin="round" textLength="86.7" lengthAdjust="spacingAndGlyphs">frame</text>
<text x="47.8" y="1391.6" font-family="Liberation Sans, sans-serif" font-weight="bold" font-size="28.4" fill="#050505" stroke="#050505" stroke-width="1.10" stroke-linejoin="round" textLength="176.9" lengthAdjust="spacingAndGlyphs">(Anti-fading</text>
<text x="231.0" y="1391.6" font-family="Liberation Sans, sans-serif" font-weight="bold" font-size="28.4" fill="#050505" stroke="#050505" stroke-width="1.10" stroke-linejoin="round" textLength="22.8" lengthAdjust="spacingAndGlyphs">&amp;</text>
<text x="260.1" y="1391.6" font-family="Liberation Sans, sans-serif" font-weight="bold" font-size="28.4" fill="#050505" stroke="#050505" stroke-width="1.10" stroke-linejoin="round" textLength="144.8" lengthAdjust="spacingAndGlyphs">Anti-rust)</text>
<text x="1137.0" y="1387.6" font-family="Liberation Sans, sans-serif" font-weight="bold" font-size="28.4" fill="#050505" stroke="#050505" stroke-width="1.10" stroke-linejoin="round" textLength="51.8" lengthAdjust="spacingAndGlyphs">E12</text>
<text x="1197.3" y="1387.6" font-family="Liberation Sans, sans-serif" font-weight="bold" font-size="28.4" fill="#050505" stroke="#050505" stroke-width="1.10" stroke-linejoin="round" textLength="65.1" lengthAdjust="spacingAndGlyphs">Bulb</text>
<text x="1270.0" y="1387.6" font-family="Liberation Sans, sans-serif" font-weight="bold" font-size="28.4" fill="#050505" stroke="#050505" stroke-width="1.10" stroke-linejoin="round" textLength="69.4" lengthAdjust="spacingAndGlyphs">Base</text>
<text x="58.5" y="113.5" font-family="Liberation Sans, sans-serif" font-weight="normal" font-size="48.5" fill="#ffffff" stroke="#ffffff" stroke-width="0.60" stroke-linejoin="round" textLength="173.6" lengthAdjust="spacingAndGlyphs">Details</text>
<text x="246.7" y="113.5" font-family="Liberation Sans, sans-serif" font-weight="normal" font-size="48.5" fill="#ffffff" stroke="#ffffff" stroke-width="0.60" stroke-linejoin="round" textLength="52.8" lengthAdjust="spacingAndGlyphs">of</text>
<text x="313.1" y="113.5" font-family="Liberation Sans, sans-serif" font-weight="normal" font-size="48.5" fill="#ffffff" stroke="#ffffff" stroke-width="0.60" stroke-linejoin="round" textLength="128.4" lengthAdjust="spacingAndGlyphs">Light</text>
</svg>
</body></html>
